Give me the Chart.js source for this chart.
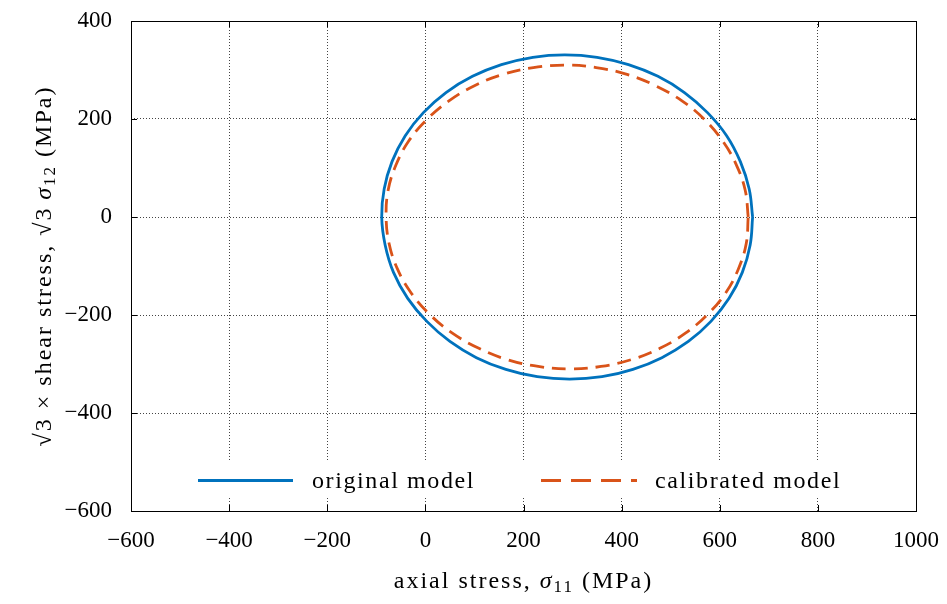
<!DOCTYPE html>
<html>
<head>
<meta charset="utf-8">
<script src="https://cdn.jsdelivr.net/npm/chart.js@4.4.0/dist/chart.umd.min.js"></script>
<style>
  body { margin: 0; background: #fff; }
  canvas { display: block; }
</style>
</head>
<body>
<canvas id="yieldChart" width="947" height="604"></canvas>
<script>
// tick values for both axes
const xTicks = [-600, -400, -200, 0, 200, 400, 600, 800, 1000];
const yTicks = [-600, -400, -200, 0, 200, 400];

// original model yield surface (every ~10 degrees)
const originalX = [667, 660, 642, 614, 575, 528, 474, 414, 350, 284, 219, 155, 96, 42, -4, -41, -68, -84, -89,
  -82, -65, -36, 3, 50, 104, 164, 228, 294, 360, 423, 482, 536, 582, 619, 646, 662, 667];
const originalY = [0, 57, 113, 166, 213, 254, 287, 311, 326, 331, 326, 311, 287, 254, 213, 166, 113, 57, 0,
  -57, -113, -166, -213, -254, -287, -311, -326, -331, -326, -311, -287, -254, -213, -166, -113, -57, 0];

// calibrated model yield surface
const calibratedX = [658, 652, 634, 606, 569, 523, 469, 411, 348, 284, 220, 158, 100, 48, 3, -34, -60, -76, -80,
  -74, -57, -29, 9, 55, 109, 167, 230, 294, 358, 420, 478, 530, 575, 612, 638, 654, 658];
const calibratedY = [0, 54, 106, 155, 199, 237, 268, 291, 305, 310, 305, 291, 268, 237, 199, 155, 106, 54, 0,
  -54, -106, -155, -199, -237, -268, -291, -305, -310, -305, -291, -268, -237, -199, -155, -106, -54, 0];

const FONT = '"Liberation Serif", "DejaVu Serif", serif';
const fmt = v => (v < 0 ? '\u2212' + Math.abs(v) : String(v));

function toPoints(xs, ys) {
  return xs.map((x, i) => ({ x: x, y: ys[i] }));
}

// draw a run of text pieces (normal / italic / subscript)
function drawPieces(ctx, pieces, x, y) {
  let cx = x;
  pieces.forEach(p => {
    ctx.font = p.font;
    ctx.fillText(p.t, cx, y + (p.dy || 0));
    cx += ctx.measureText(p.t).width;
  });
}
function piecesWidth(ctx, pieces) {
  let w = 0;
  pieces.forEach(p => { ctx.font = p.font; w += ctx.measureText(p.t).width; });
  return w;
}

const frame = {
  id: 'frame',
  beforeDatasetsDraw(chart) {
    const { ctx, chartArea: a } = chart;
    const xs = chart.scales.x, ys = chart.scales.y;
    ctx.save();
    ctx.strokeStyle = '#000';
    ctx.lineWidth = 1;
    ctx.beginPath();
    xTicks.forEach(v => {
      const px = Math.round(xs.getPixelForValue(v)) + 0.5;
      ctx.moveTo(px, a.bottom); ctx.lineTo(px, a.bottom - 6);
      ctx.moveTo(px, a.top); ctx.lineTo(px, a.top + 6);
    });
    yTicks.forEach(v => {
      const py = Math.round(ys.getPixelForValue(v)) + 0.5;
      ctx.moveTo(a.left, py); ctx.lineTo(a.left + 6, py);
      ctx.moveTo(a.right, py); ctx.lineTo(a.right - 6, py);
    });
    ctx.stroke();
    ctx.strokeRect(Math.round(a.left) + 0.5, Math.round(a.top) + 0.5,
      Math.round(a.right - a.left), Math.round(a.bottom - a.top));
    ctx.restore();
  },
  afterDatasetsDraw(chart) {
    const { ctx, chartArea: a } = chart;
    ctx.save();
    ctx.letterSpacing = '1.6px';
    // legend inside the plot, bottom
    ctx.fillStyle = '#fff';
    ctx.fillRect(188, 462, 672, 36);
    const items = [
      { ds: chart.data.datasets[0], x0: 198, x1: 293, tx: 312 },
      { ds: chart.data.datasets[1], x0: 541, x1: 637, tx: 655 }
    ];
    items.forEach(it => {
      ctx.strokeStyle = it.ds.borderColor;
      ctx.lineWidth = it.ds.borderWidth;
      ctx.setLineDash(it.ds.borderDash ? [20, 10] : []);
      ctx.beginPath();
      ctx.moveTo(it.x0, 480.5); ctx.lineTo(it.x1, 480.5);
      ctx.stroke();
      ctx.setLineDash([]);
      ctx.fillStyle = '#000';
      ctx.font = '24px ' + FONT;
      ctx.textBaseline = 'alphabetic';
      ctx.fillText(it.ds.label, it.tx, 488);
    });

    // axis titles
    const normal = '24px ' + FONT;
    const ital = 'italic 24px ' + FONT;
    const small = '17px ' + FONT;
    ctx.letterSpacing = '2px';
    ctx.fillStyle = '#000';
    ctx.textBaseline = 'alphabetic';
    const xt = [
      { t: 'axial stress, ', font: normal },
      { t: '\u03c3', font: ital },
      { t: '11', font: small, dy: 4 },
      { t: ' (MPa)', font: normal }
    ];
    const xw = piecesWidth(ctx, xt);
    drawPieces(ctx, xt, (a.left + a.right) / 2 - xw / 2, 588);

    const yt = [
      { t: '\u221a3 \u00d7 shear stress, \u221a3\u2009', font: normal },
      { t: '\u03c3', font: ital },
      { t: '12', font: small, dy: 4 },
      { t: ' (MPa)', font: normal }
    ];
    const yw = piecesWidth(ctx, yt);
    ctx.translate(51, (a.top + a.bottom) / 2);
    ctx.rotate(-Math.PI / 2);
    drawPieces(ctx, yt, -yw / 2, 0);
    ctx.restore();
  }
};

const chartConfig = {
  type: 'scatter',
  data: {
    datasets: [{
      label: 'original model',
      data: toPoints(originalX, originalY),
      showLine: true,
      borderColor: '#0072BD',
      backgroundColor: '#0072BD',
      borderWidth: 2.8,
      pointRadius: 0,
      tension: 0.4
    }, {
      label: 'calibrated model',
      data: toPoints(calibratedX, calibratedY),
      showLine: true,
      borderColor: '#D95319',
      backgroundColor: '#D95319',
      borderWidth: 2.8,
      borderDash: [14, 8],
      pointRadius: 0,
      tension: 0.4
    }]
  },
  options: {
    responsive: false,
    animation: false,
    devicePixelRatio: 1,
    layout: { padding: { top: 21, right: 31, left: 0, bottom: 0 } },
    plugins: {
      legend: { display: false },
      tooltip: { enabled: false }
    },
    scales: {
      x: {
        min: xTicks[0],
        max: xTicks[xTicks.length - 1],
        afterBuildTicks: s => { s.ticks = xTicks.map(v => ({ value: v })); },
        afterFit: s => { s.height = 93; s.paddingLeft = 0; s.paddingRight = 0; },
        grid: { color: '#444', lineWidth: 1, drawTicks: false },
        border: { display: false, dash: [1, 2] },
        ticks: {
          padding: 16,
          color: '#000',
          font: { family: FONT, size: 23 },
          maxRotation: 0,
          callback: v => fmt(v)
        }
      },
      y: {
        min: yTicks[0],
        max: yTicks[yTicks.length - 1],
        afterBuildTicks: s => { s.ticks = yTicks.map(v => ({ value: v })); },
        afterFit: s => { s.width = 131; s.paddingTop = 0; s.paddingBottom = 0; },
        grid: { color: '#444', lineWidth: 1, drawTicks: false },
        border: { display: false, dash: [1, 2] },
        ticks: {
          padding: 19,
          color: '#000',
          font: { family: FONT, size: 23 },
          callback: v => fmt(v)
        }
      }
    }
  },
  plugins: [frame]
};

const yieldChart = new Chart(document.getElementById('yieldChart'), chartConfig);
</script>
</body>
</html>
